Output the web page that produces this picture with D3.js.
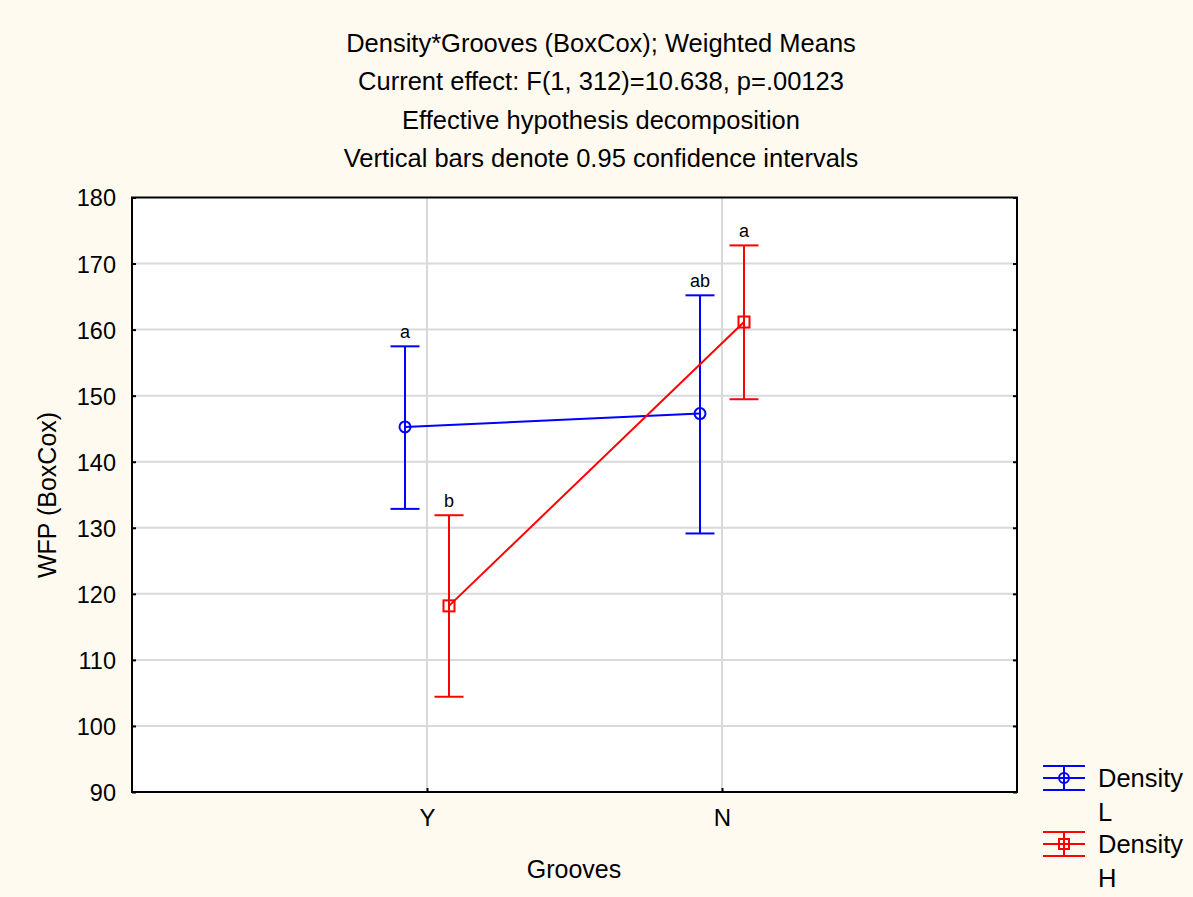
<!DOCTYPE html>
<html><head><meta charset="utf-8">
<script src="https://cdn.jsdelivr.net/npm/d3@7"></script>
<style>
html,body{margin:0;padding:0;background:#fffaf0;}
text{font-family:"Liberation Sans",Arial,sans-serif;fill:#000;}
</style></head>
<body>
<svg id="chart" width="1193" height="897"></svg>
<script>
const categories = ["Y", "N"];
const seriesNames = ["Density\nL", "Density\nH"];
const seriesColors = ["#0000ff", "#ff0000"];
const meanL = [145.27, 147.29];
const upperL = [157.47, 165.19];
const lowerL = [132.86, 129.14];
const labelsL = ["a", "ab"];
const meanH = [118.18, 161.15];
const upperH = [131.9, 172.75];
const lowerH = [104.42, 149.46];
const labelsH = ["b", "a"];
const yTicks = [90, 100, 110, 120, 130, 140, 150, 160, 170, 180];
const titleLines = [
  "Density*Grooves (BoxCox); Weighted Means",
  "Current effect: F(1, 312)=10.638, p=.00123",
  "Effective hypothesis decomposition",
  "Vertical bars denote 0.95 confidence intervals"
];

const svg = d3.select("#chart");
const L = 132, R = 1017, T = 197.5, B = 792;
const x = d3.scalePoint().domain(categories).range([L, R]).padding(1);
const y = d3.scaleLinear().domain([90, 180]).range([B, T]);

svg.append("rect").attr("width", 1193).attr("height", 897).attr("fill", "#fffaf0");
svg.append("rect").attr("x", L).attr("y", T).attr("width", R - L).attr("height", B - T).attr("fill", "#fff");

// gridlines
svg.append("g").selectAll("line").data(yTicks.slice(1, -1)).join("line")
  .attr("x1", L).attr("x2", R).attr("y1", d => y(d)).attr("y2", d => y(d))
  .attr("stroke", "#d9d9d9").attr("stroke-width", 2);
svg.append("g").selectAll("line").data(categories).join("line")
  .attr("x1", d => x(d)).attr("x2", d => x(d)).attr("y1", T).attr("y2", B)
  .attr("stroke", "#d9d9d9").attr("stroke-width", 2);

// axes
const yAxis = svg.append("g").attr("transform", `translate(${L},0)`)
  .call(d3.axisLeft(y).tickValues(yTicks).tickSize(-4).tickPadding(16));
yAxis.select(".domain").remove();
yAxis.selectAll("text").style("font-size", "23.5px").attr("dy", "0.36em");
const yAxisR = svg.append("g").attr("transform", `translate(${R},0)`)
  .call(d3.axisRight(y).tickValues(yTicks).tickSize(-4).tickFormat(""));
yAxisR.select(".domain").remove();
const xAxis = svg.append("g").attr("transform", `translate(0,${B})`)
  .call(d3.axisBottom(x).tickSize(-4).tickPadding(17));
xAxis.select(".domain").remove();
xAxis.selectAll("text").style("font-size", "24px");
svg.selectAll(".tick line").attr("stroke", "#000").attr("stroke-width", 2);

svg.append("rect").attr("x", L).attr("y", T).attr("width", R - L).attr("height", B - T)
  .attr("fill", "none").attr("stroke", "#000").attr("stroke-width", 2);

// titles
svg.append("g").selectAll("text").data(titleLines).join("text")
  .attr("x", 601).attr("y", (d, i) => 52 + i * 38.3).attr("text-anchor", "middle")
  .style("font-size", "25.5px").text(d => d);

svg.append("text").attr("x", 574).attr("y", 878).attr("text-anchor", "middle")
  .style("font-size", "25px").text("Grooves");
svg.append("text").attr("transform", `translate(56,495) rotate(-90)`).attr("text-anchor", "middle")
  .style("font-size", "25px").text("WFP (BoxCox)");

// series
const series = [
  {mean: meanL, up: upperL, lo: lowerL, lab: labelsL, color: seriesColors[0], off: -22, shape: "circle"},
  {mean: meanH, up: upperH, lo: lowerH, lab: labelsH, color: seriesColors[1], off: 22, shape: "square"}
];
const capW = 14.5;
series.forEach(s => {
  const g = svg.append("g");
  const pts = categories.map((c, i) => ({cx: x(c) + s.off, m: s.mean[i], u: s.up[i], l: s.lo[i], t: s.lab[i]}));
  g.append("path").attr("d", d3.line().x(d => d.cx).y(d => y(d.m))(pts))
    .attr("fill", "none").attr("stroke", s.color).attr("stroke-width", 2);
  pts.forEach(p => {
    g.append("line").attr("x1", p.cx).attr("x2", p.cx).attr("y1", y(p.u)).attr("y2", y(p.l))
      .attr("stroke", s.color).attr("stroke-width", 2);
    [p.u, p.l].forEach(v => g.append("line").attr("x1", p.cx - capW).attr("x2", p.cx + capW)
      .attr("y1", y(v)).attr("y2", y(v)).attr("stroke", s.color).attr("stroke-width", 2));
    if (s.shape === "circle") {
      g.append("circle").attr("cx", p.cx).attr("cy", y(p.m)).attr("r", 5.5)
        .attr("fill", "none").attr("stroke", s.color).attr("stroke-width", 2);
    } else {
      g.append("rect").attr("x", p.cx - 5.5).attr("y", y(p.m) - 5.5).attr("width", 11).attr("height", 11)
        .attr("fill", "none").attr("stroke", s.color).attr("stroke-width", 2);
    }
    g.append("text").attr("x", p.cx).attr("y", y(p.u) - 8).attr("text-anchor", "middle")
      .style("font-size", "18px").text(p.t);
  });
});

// legend
const legY = [778, 844];
series.forEach((s, i) => {
  const g = svg.append("g").attr("transform", `translate(1064,${legY[i]})`);
  [-12, 0, 12].forEach(dy => g.append("line").attr("x1", -21).attr("x2", 21).attr("y1", dy).attr("y2", dy)
    .attr("stroke", s.color).attr("stroke-width", 2));
  g.append("line").attr("x1", 0).attr("x2", 0).attr("y1", -12).attr("y2", 12).attr("stroke", s.color).attr("stroke-width", 2);
  if (s.shape === "circle") g.append("circle").attr("r", 5).attr("fill", "none").attr("stroke", s.color).attr("stroke-width", 2);
  else g.append("rect").attr("x", -5).attr("y", -5).attr("width", 10).attr("height", 10).attr("fill", "none").attr("stroke", s.color).attr("stroke-width", 2);
  const lines = seriesNames[i].split("\n");
  g.append("text").attr("x", 34).attr("y", 9).style("font-size", "25.5px").text(lines[0]);
  g.append("text").attr("x", 34).attr("y", 43).style("font-size", "25.5px").text(lines[1]);
});
</script>
</body></html>
